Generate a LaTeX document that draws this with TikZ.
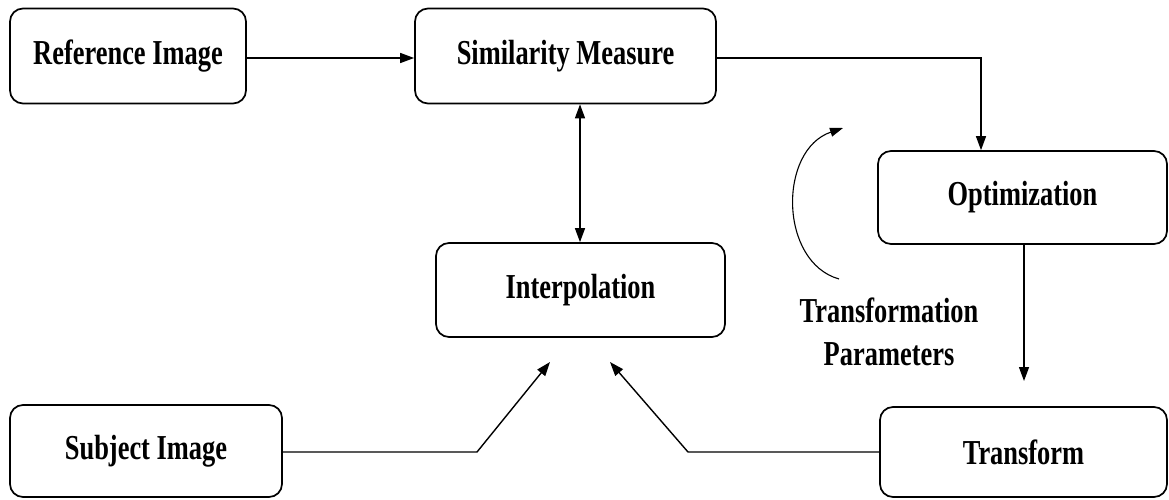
\documentclass[tikz,border=0pt]{standalone}
\usepackage{fontspec}
\newfontfamily\diafont{Liberation Serif}[FakeStretch=0.755]
\usetikzlibrary{arrows.meta}
\begin{document}
\begin{tikzpicture}[x=1pt,y=-1pt,
  blockbox/.style={draw, line width=1.7pt, rounded corners=13pt, inner sep=0pt,
    font=\diafont\bfseries\fontsize{35}{42}\selectfont},
  flow/.style={line width=1.4pt, -{Triangle[length=14pt,width=10pt]}},
  twoway/.style={line width=1.4pt, {Triangle[length=14pt,width=10pt]}-{Triangle[length=14pt,width=10pt]}},
  label/.style={font=\diafont\bfseries\fontsize{35}{43}\selectfont, align=center, inner sep=0pt}]
\useasboundingbox (0,0) rectangle (1169,500);

% processing blocks
\node[blockbox, minimum width=236pt, minimum height=95pt] (ref) at (128,56) {Reference Image};
\node[blockbox, minimum width=301pt, minimum height=95pt] (sim) at (565.5,56) {Similarity Measure};
\node[blockbox, minimum width=289pt, minimum height=93pt] (opt) at (1022.5,197.5) {Optimization};
\node[blockbox, minimum width=289pt, minimum height=94pt] (interp) at (580.5,290) {Interpolation};
\node[blockbox, minimum width=272pt, minimum height=92pt] (subj) at (146,451) {Subject Image};
\node[blockbox, minimum width=287pt, minimum height=90pt] (trans) at (1023.5,452) {Transform};

% free ends of the open connectors
\coordinate (optout) at (1024,381);
\coordinate (subjbend) at (477,452);
\coordinate (subjtip) at (550,362);
\coordinate (transbend) at (688,452);
\coordinate (transtip) at (610,362);
\coordinate (arcstart) at (839,279);
\coordinate (arcend) at (843,128);

% connectors
\draw[flow] (ref.east |- 0,58) -- (sim.west |- 0,58);
\draw[flow] (sim.east |- 0,58) -- (981,58) -- (opt.north -| 981,0);
\draw[twoway] (sim.south -| 580,0) -- (interp.north -| 580,0);
\draw[flow] (opt.south -| 1024,0) -- (optout);
\draw[flow] (subj.east |- 0,452) -- (subjbend) -- (subjtip);
\draw[flow] (trans.west |- 0,452) -- (transbend) -- (transtip);

% feedback of the parameters
\draw[line width=1.1pt, -{Triangle[length=13pt,width=9pt]}]
  (arcstart) .. controls (779,262) and (778,150) .. (arcend);
\node[label] (params) at (889,332) {Transformation\\Parameters};
\end{tikzpicture}
\end{document}
